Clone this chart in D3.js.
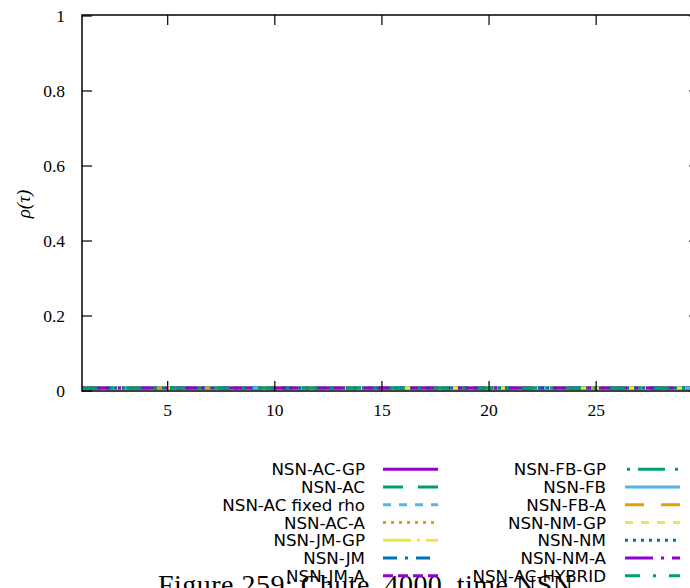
<!DOCTYPE html>
<html>
<head>
<meta charset="utf-8">
<script src="https://cdn.jsdelivr.net/npm/d3@7"></script>
<style>
  html, body { margin: 0; padding: 0; background: #fff; overflow: hidden; }
  svg { display: block; }
</style>
</head>
<body>
<script>
// ---- data ----
const tau = [1, 29.8];
const seriesNames = [
  "NSN-AC-GP", "NSN-AC", "NSN-AC fixed rho", "NSN-AC-A", "NSN-JM-GP", "NSN-JM", "NSN-JM-A",
  "NSN-FB-GP", "NSN-FB", "NSN-FB-A", "NSN-NM-GP", "NSN-NM", "NSN-NM-A", "NSN-AC-HYBRID"
];
const rhoValues = [
  [0.008, 0.008], [0.008, 0.008], [0.008, 0.008], [0.008, 0.008], [0.008, 0.008],
  [0.008, 0.008], [0.008, 0.008], [0.008, 0.008], [0.008, 0.008], [0.008, 0.008],
  [0.008, 0.008], [0.008, 0.008], [0.008, 0.008], [0.008, 0.008]
];
const xTicks = [5, 10, 15, 20, 25];
const yTicks = [0, 0.2, 0.4, 0.6, 0.8, 1];
const yTickLabels = ["0", "0.2", "0.4", "0.6", "0.8", "1"];
const caption = "Figure 259: Chute_4000_time NSN";

// ---- styles ----
const colors = ["#9400d3", "#009e73", "#56b4e9", "#e69f00", "#f0e442", "#0072b2",
                "#9400d3", "#009e73", "#56b4e9", "#e69f00", "#f0e442", "#0072b2",
                "#9400d3", "#009e73"];
const dashes = [null, "20,15", "8,8", "3,5", "28,6,3,6", "14,8,3,8", "10,5",
                "0,2,3,8,27,8", null, "19,17", "8,8", "3,5", "28,8,3,8", "15,13,3,13"];

const W = 690, H = 588;
const svg = d3.select("body").append("svg").attr("width", W).attr("height", H);

const x = d3.scaleLinear().domain([1, 29.8]).range([82, 699]);
const y = d3.scaleLinear().domain([0, 1]).range([391, 16]);

const serif = "'Liberation Serif', 'DejaVu Serif', serif";
const sans = "'DejaVu Sans', 'Liberation Sans', sans-serif";

// caption (under everything)
svg.append("text")
  .attr("x", 158).attr("y", 594)
  .attr("font-family", serif).attr("font-size", 28)
  .attr("textLength", 415).attr("lengthAdjust", "spacing")
  .attr("fill", "#000")
  .text(caption);

// data lines
const line = d3.line().x(d => x(d[0])).y(d => y(d[1]));
rhoValues.forEach((vals, i) => {
  const pts = tau.map((t, j) => [t, vals[j]]);
  svg.append("path")
    .attr("d", line(pts))
    .attr("fill", "none")
    .attr("stroke", colors[i])
    .attr("stroke-width", 3)
    .attr("stroke-dasharray", dashes[i]);
});

// frame
const x0 = x.range()[0], x1 = x.range()[1];
const yTop = 15, yBot = 391;
svg.append("rect")
  .attr("x", x0).attr("y", yTop).attr("width", x1 - x0).attr("height", yBot - yTop)
  .attr("fill", "none").attr("stroke", "#000").attr("stroke-width", 1.5);

// x ticks
xTicks.forEach(t => {
  const px = x(t);
  svg.append("line").attr("x1", px).attr("x2", px).attr("y1", yBot).attr("y2", yBot - 10)
    .attr("stroke", "#000").attr("stroke-width", 1.2);
  svg.append("line").attr("x1", px).attr("x2", px).attr("y1", yTop).attr("y2", yTop + 10)
    .attr("stroke", "#000").attr("stroke-width", 1.2);
  svg.append("text").attr("x", px).attr("y", 416)
    .attr("text-anchor", "middle")
    .attr("font-family", serif).attr("font-size", 17.5)
    .text(t);
});

// y ticks
yTicks.forEach((t, i) => {
  const py = y(t);
  svg.append("line").attr("x1", x0).attr("x2", x0 + 10).attr("y1", py).attr("y2", py)
    .attr("stroke", "#000").attr("stroke-width", 1.2);
  svg.append("line").attr("x1", x1).attr("x2", x1 - 10).attr("y1", py).attr("y2", py)
    .attr("stroke", "#000").attr("stroke-width", 1.2);
  svg.append("text").attr("x", 65).attr("y", py + 6)
    .attr("text-anchor", "end")
    .attr("font-family", serif).attr("font-size", 17.5)
    .text(yTickLabels[i]);
});

// y label
svg.append("text")
  .attr("transform", "translate(30,204) rotate(-90)")
  .attr("text-anchor", "middle")
  .attr("font-family", serif).attr("font-size", 19).attr("font-style", "italic")
  .text("ρ(τ)");

// legend
const rowY0 = 469.3, rowDY = 17.75;
seriesNames.forEach((name, i) => {
  const col = i < 7 ? 0 : 1;
  const row = i % 7;
  const ly = rowY0 + row * rowDY;
  const labelX = col === 0 ? 365 : 606;
  const sx0 = col === 0 ? 383 : 625;
  const sx1 = col === 0 ? 438 : 680;
  svg.append("text").attr("x", labelX).attr("y", ly + 6)
    .attr("text-anchor", "end")
    .attr("font-family", sans).attr("font-size", 16.7)
    .attr("fill", "#000")
    .text(name);
  svg.append("line").attr("x1", sx0).attr("x2", sx1).attr("y1", ly).attr("y2", ly)
    .attr("stroke", colors[i]).attr("stroke-width", 3)
    .attr("stroke-dasharray", dashes[i]);
});
</script>
</body>
</html>
